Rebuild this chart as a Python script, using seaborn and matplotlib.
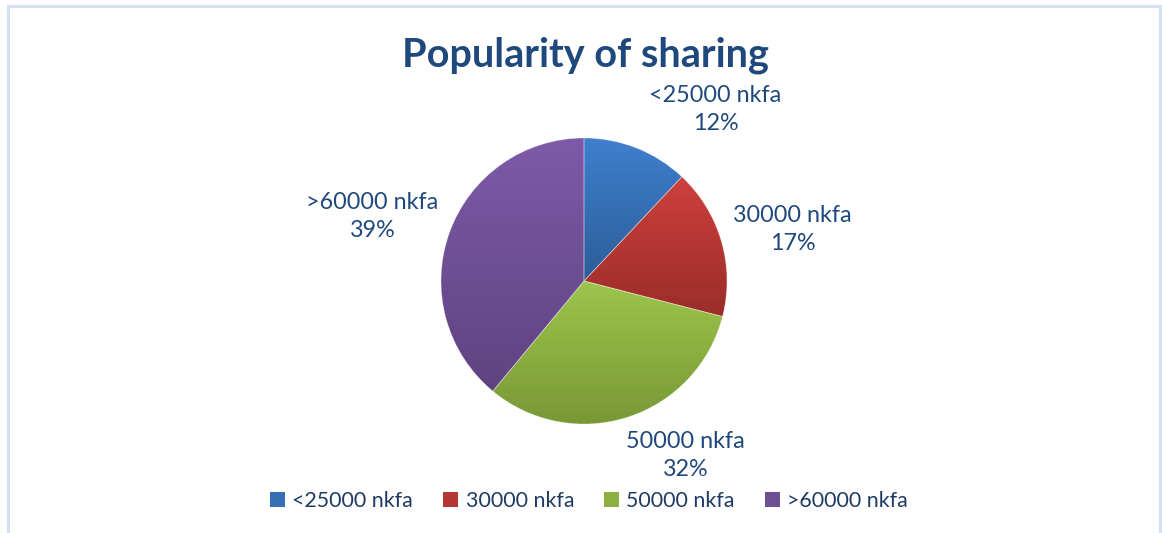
import numpy as np
import matplotlib
matplotlib.use("Agg")
import matplotlib.pyplot as plt
import seaborn as sns
from matplotlib.patches import Rectangle, Patch
from matplotlib.colors import to_rgb

categories = ["<25000 nkfa", "30000 nkfa", "50000 nkfa", ">60000 nkfa"]
values = [12, 17, 32, 39]
top_colors = ["#3F80CE", "#CD403C", "#9DC54B", "#7E5AA8"]
bottom_colors = ["#2D5D99", "#9A2D2A", "#789836", "#5F4381"]
label_pos = [(0.92, 1.20), (1.46, 0.36), (0.71, -1.22), (-1.48, 0.45)]

sns.set_theme(style="white")
plt.rcParams['font.family'] = ['Lato', 'DejaVu Sans']

W, H = 1162, 533
fig = plt.figure(figsize=(W / 100, H / 100), dpi=100)
fig.patch.set_facecolor("white")

# chart border
fig.patches.append(Rectangle((8 / W, -0.05), (1160 - 8) / W, (533 - 6) / H + 0.05,
                             transform=fig.transFigure, fill=False,
                             edgecolor="#D5E1F1", linewidth=2.2, zorder=0))

cx, cy, r = 584, 281, 143
ax_left, ax_right, ax_top, ax_bot = 284, 884, 60, 502
ax = fig.add_axes([ax_left / W, (H - ax_bot) / H, (ax_right - ax_left) / W, (ax_bot - ax_top) / H])

wedges, _ = ax.pie(values, startangle=90, counterclock=False,
                   colors=top_colors,
                   wedgeprops=dict(edgecolor=(1, 1, 1, 0.35), linewidth=0.6))

for w, tc, bc in zip(wedges, top_colors, bottom_colors):
    bb = w.get_path().get_extents()
    t = np.array(to_rgb(tc)); b = np.array(to_rgb(bc))
    f = np.linspace(0, 1, 256)[:, None]
    grad = (t[None, :] * (1 - f) + b[None, :] * f)[:, None, :]
    im = ax.imshow(grad, extent=[bb.x0, bb.x1, bb.y0, bb.y1], origin="upper",
                   aspect="auto", zorder=w.get_zorder() - 0.1, interpolation="bilinear")
    im.set_clip_path(w)
    w.set_facecolor("none")

ax.set_xlim(-(cx - ax_left) / r, (ax_right - cx) / r)
ax.set_ylim(-(ax_bot - cy) / r, (cy - ax_top) / r)
ax.axis("off")

label_color = "#1F497D"
for cat, v, (lx, ly) in zip(categories, values, label_pos):
    ax.text(lx, ly, f"{cat}\n{v}%", ha="center", va="center", fontsize=16.8,
            color=label_color, linespacing=1.4)

fig.text(585 / W, 1 - 55 / H, "Popularity of sharing", ha="center", va="center",
         fontsize=28.5, fontweight="bold", color="#1F497D")

handles = [Patch(facecolor=(np.array(to_rgb(t)) + np.array(to_rgb(b))) / 2, edgecolor="none")
           for t, b in zip(top_colors, bottom_colors)]
fig.legend(handles, categories, loc="center", bbox_to_anchor=(589 / W, 1 - 501 / H),
           ncol=4, frameon=False, fontsize=15.4, handlelength=0.7, handleheight=0.7,
           handletextpad=0.35, columnspacing=1.4, labelcolor="#1F3B64")

fig.savefig("out.png", dpi=100)
